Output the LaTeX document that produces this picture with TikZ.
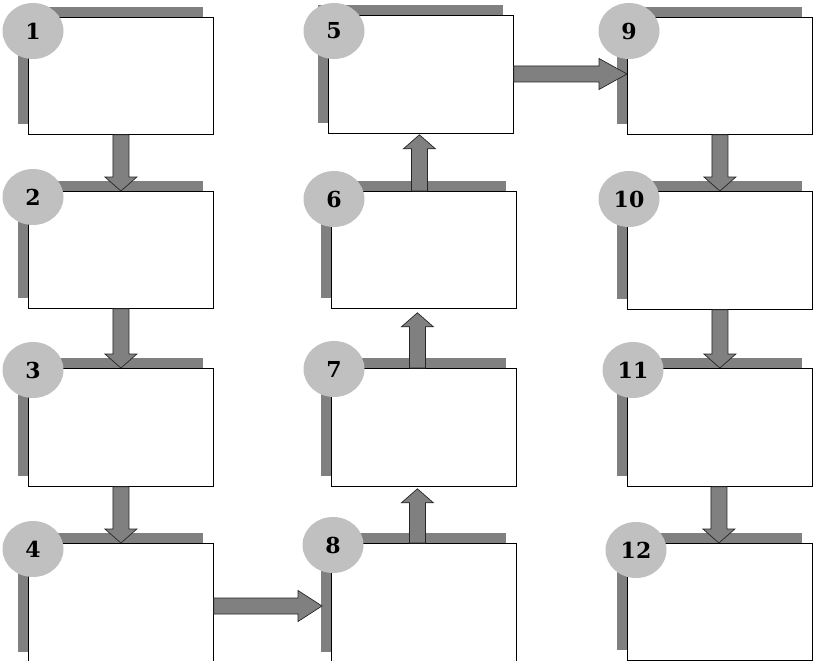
\documentclass[tikz,border=0pt]{standalone}
\usepackage{fontspec}
\newfontfamily\numfont{DejaVu Serif}
\usetikzlibrary{calc,shadows,shapes.geometric}
\definecolor{shade}{RGB}{128,128,128}
\definecolor{disc}{RGB}{192,192,192}
\tikzset{
  stepbox/.style={draw=black, line width=0.8pt, fill=white,
    minimum width=185pt, inner sep=0pt, anchor=north west,
    drop shadow={shadow xshift=-10pt, shadow yshift=10pt, fill=shade, opacity=1}},
  badge/.style={ellipse, fill=disc, minimum width=61pt, minimum height=56pt,
    inner sep=0pt, font=\numfont\bfseries\fontsize{22}{22}\selectfont},
  blockarrow/.style={fill=shade, draw=black!85, line width=0.7pt, line join=miter}
}
% block arrow pointing down: source, target, x offset
\newcommand\flowdown[3]{%
  \path[blockarrow] let \p1=($(#1.south)+(#3,0)$), \p2=(#2.north) in
    (\x1-8pt,\y1) -- (\x1-8pt,\y2+14pt) -- (\x1-16pt,\y2+14pt) -- (\x1,\y2)
    -- (\x1+16pt,\y2+14pt) -- (\x1+8pt,\y2+14pt) -- (\x1+8pt,\y1) -- cycle;}
% block arrow pointing up: source, target, x offset, gap below target
\newcommand\flowup[4]{%
  \path[blockarrow] let \p1=($(#1.north)+(#3,0)$), \p2=($(#2.south)+(0,#4)$) in
    (\x1-8pt,\y1) -- (\x1-8pt,\y2-14pt) -- (\x1-16pt,\y2-14pt) -- (\x1,\y2)
    -- (\x1+16pt,\y2-14pt) -- (\x1+8pt,\y2-14pt) -- (\x1+8pt,\y1) -- cycle;}
% block arrow pointing right: source, target, drop below source top, tip offset, head length
\newcommand\flowright[5]{%
  \path[blockarrow] let \p1=($(#1.north east)+(0,#3)$), \p2=($(#2.north west)+(#4,0)$) in
    (\x1,\y1+8pt) -- (\x2-#5pt,\y1+8pt) -- (\x2-#5pt,\y1+15.5pt) -- (\x2,\y1)
    -- (\x2-#5pt,\y1-15.5pt) -- (\x2-#5pt,\y1-8pt) -- (\x1,\y1-8pt) -- cycle;}
\begin{document}
\begin{tikzpicture}[x=1pt,y=-1pt]
  \useasboundingbox (0,0) rectangle (814,661);
  \clip (0,0) rectangle (814,661);

  % first column
  \node[stepbox, minimum height=117pt] (b1) at (28,17) {};
  \node[stepbox, minimum height=117pt] (b2) at (28,191) {};
  \node[stepbox, minimum height=118pt] (b3) at (28,368) {};
  \node[stepbox, minimum height=119pt] (b4) at (28,543) {};
  % second column
  \node[stepbox, minimum height=118pt] (b5) at (328,15) {};
  \node[stepbox, minimum height=117pt] (b6) at (331,191) {};
  \node[stepbox, minimum height=118pt] (b7) at (331,368) {};
  \node[stepbox, minimum height=119pt] (b8) at (331,543) {};
  % third column
  \node[stepbox, minimum height=117pt] (b9) at (627,17) {};
  \node[stepbox, minimum height=118pt] (b10) at (627,191) {};
  \node[stepbox, minimum height=118pt] (b11) at (627,368) {};
  \node[stepbox, minimum height=117pt] (b12) at (627,543) {};

  % connectors
  \flowdown{b1}{b2}{0}
  \flowdown{b2}{b3}{0}
  \flowdown{b3}{b4}{0}
  \flowright{b4}{b8}{63}{-9}{24}
  \flowup{b8}{b7}{-6.5}{2}
  \flowup{b7}{b6}{-6.5}{4}
  \flowup{b6}{b5}{-4.5}{1}
  \flowright{b5}{b9}{59}{0}{28}
  \flowdown{b9}{b10}{0}
  \flowdown{b10}{b11}{0}
  \flowdown{b11}{b12}{-1}

  % numbered badges
  \node[badge] (c1) at (33,31) {1};
  \node[badge] (c2) at (33,197) {2};
  \node[badge] (c3) at (33,370) {3};
  \node[badge] (c4) at (33,549) {4};
  \node[badge] (c5) at (334,31) {5};
  \node[badge] (c6) at (334,199) {6};
  \node[badge] (c7) at (334,369) {7};
  \node[badge] (c8) at (333,545) {8};
  \node[badge] (c9) at (629,31) {9};
  \node[badge] (c10) at (629,199) {10};
  \node[badge] (c11) at (633,370) {11};
  \node[badge] (c12) at (636,550) {12};
\end{tikzpicture}
\end{document}
